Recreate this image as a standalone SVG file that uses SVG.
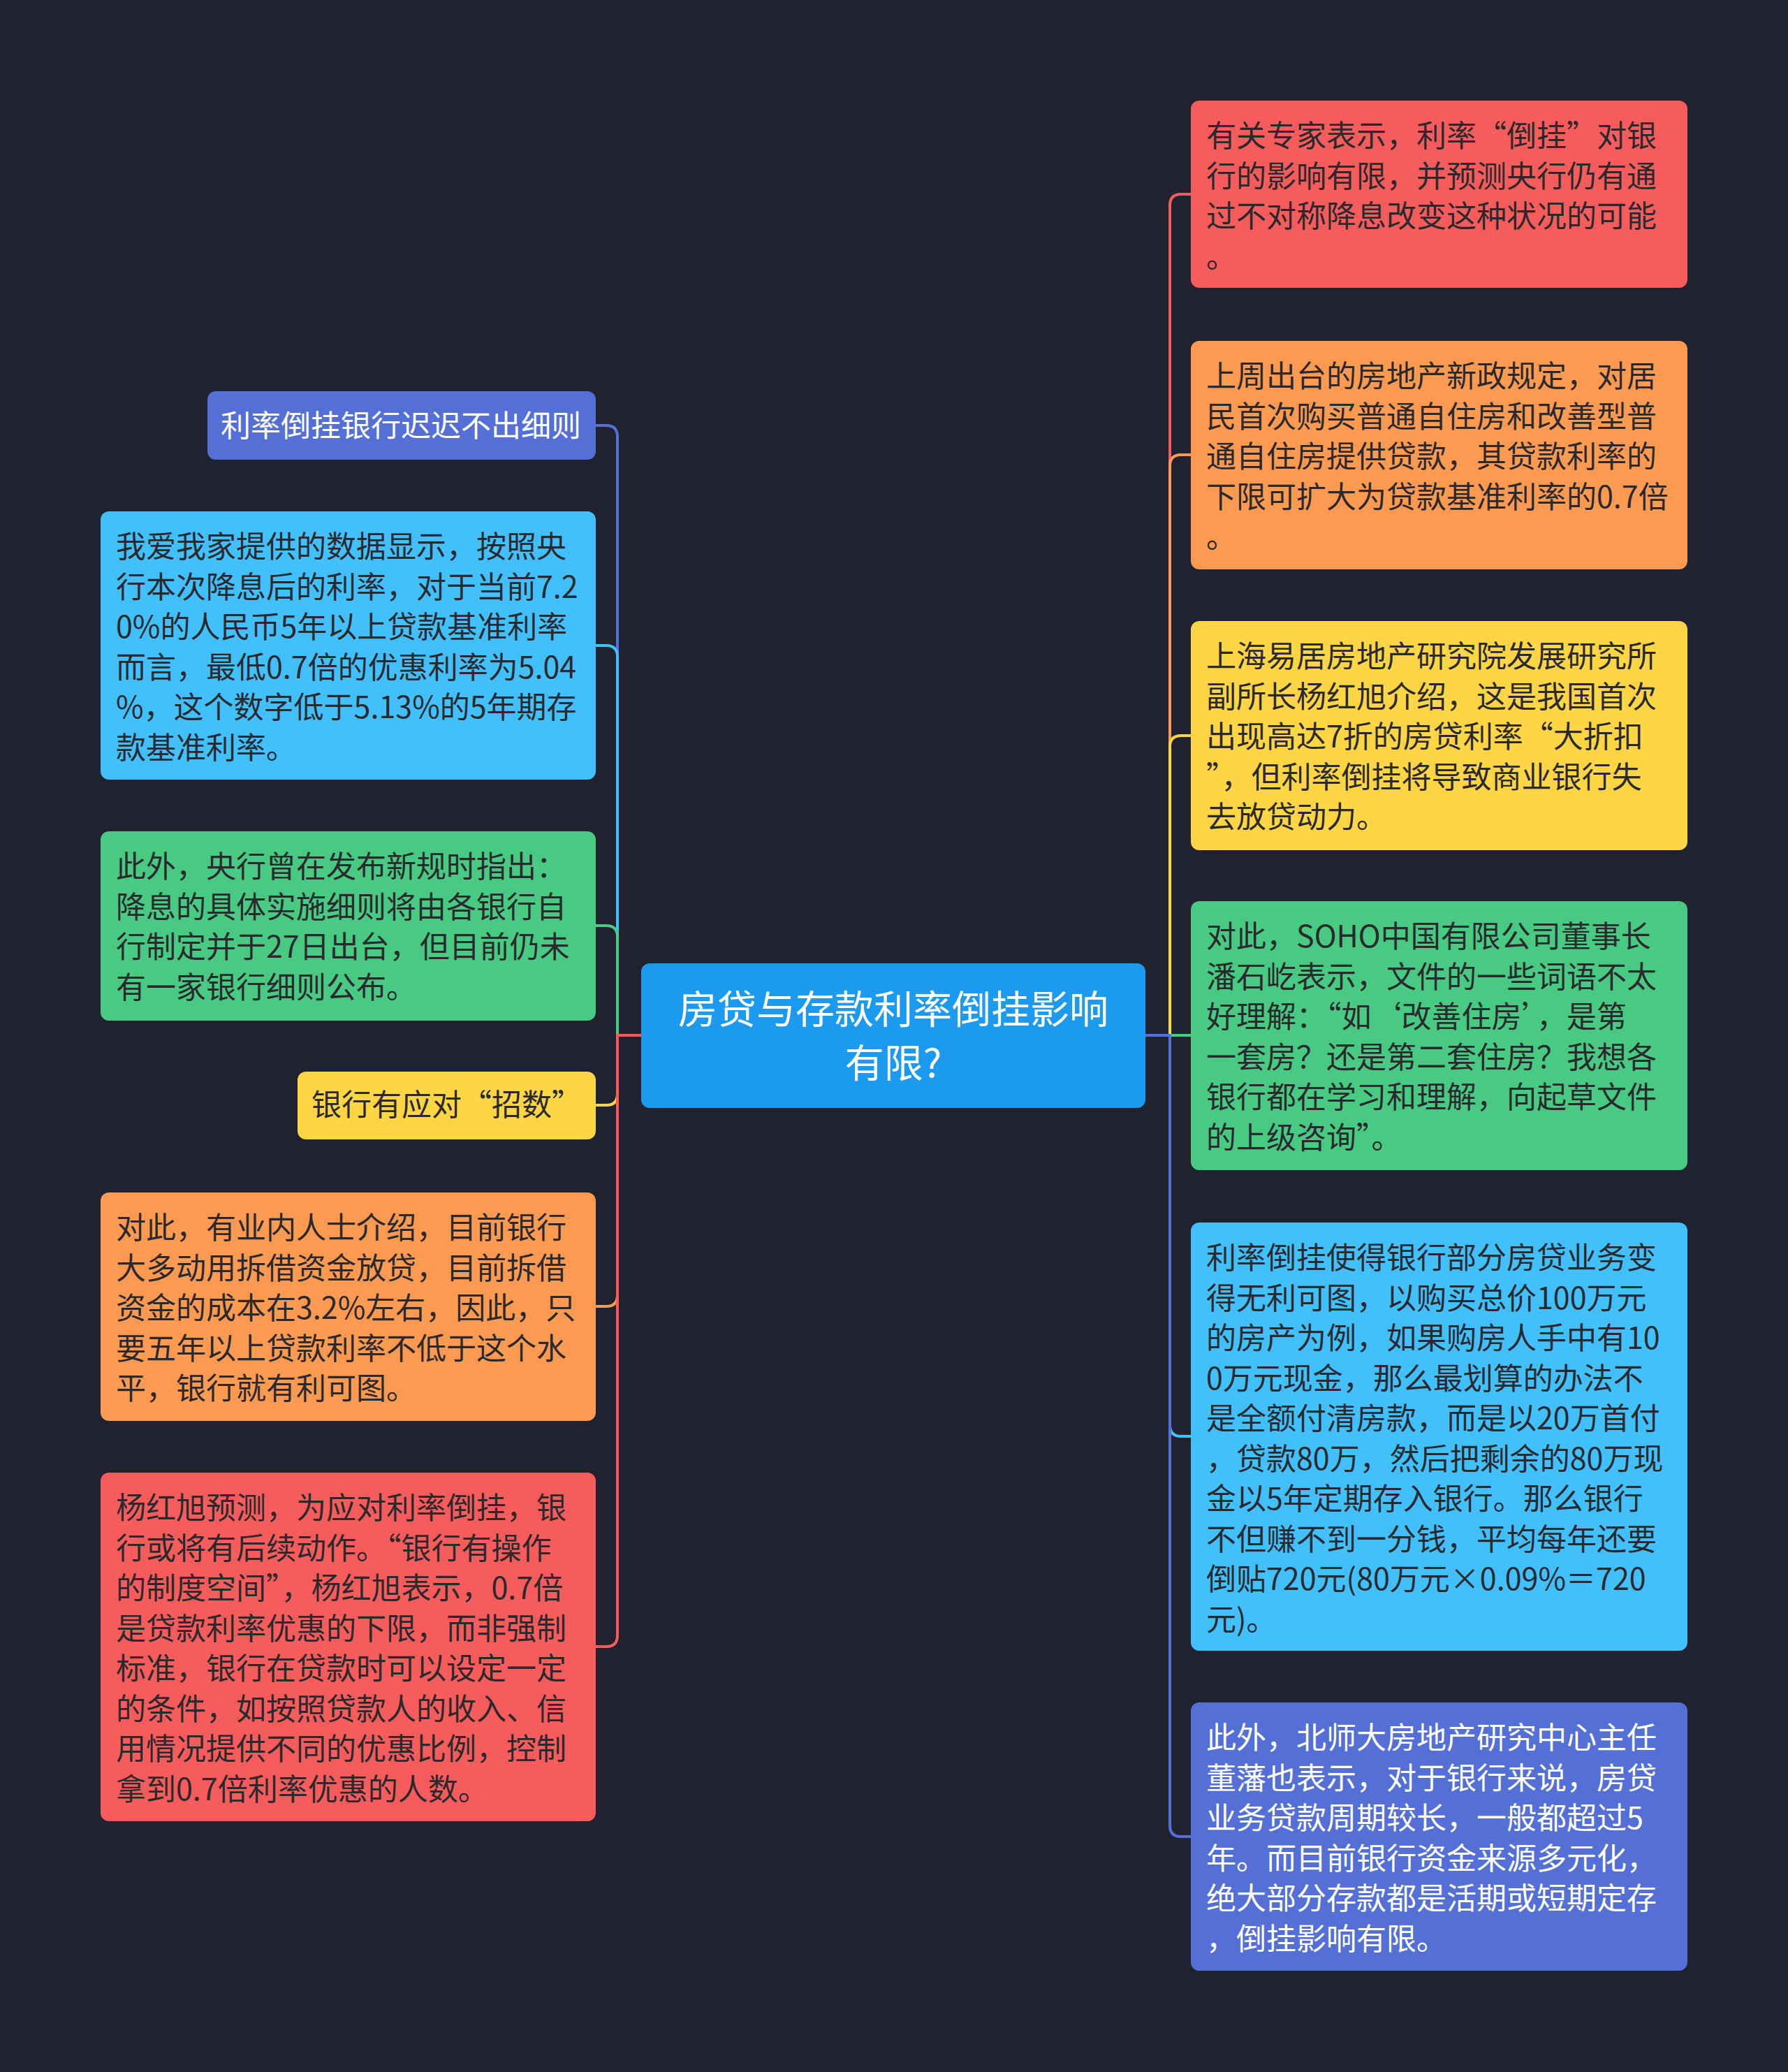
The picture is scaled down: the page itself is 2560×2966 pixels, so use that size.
<svg xmlns="http://www.w3.org/2000/svg" width="2560" height="2966" viewBox="0 0 2560 2966">
<style>
.t{font-family:"Noto Sans CJK SC","Noto Sans",sans-serif;font-size:43px;fill:#2a2a2e}
.w{fill:#ffffff}
.c{font-family:"Noto Sans CJK SC","Noto Sans",sans-serif;font-size:56px;fill:#ffffff;text-anchor:middle}
.ln{fill:none;stroke-width:4;stroke-linejoin:round}
.red{fill:#f65c5c}.org{fill:#fd9a51}.yel{fill:#fdd545}.grn{fill:#48ca83}.lb{fill:#41c0fc}.pur{fill:#5470d6}
</style>
<rect x="0" y="0" width="2560" height="2966" fill="#20232f"/>
<g id="connectors">
<path class="ln" stroke="#5470d6" d="M918,1482 H884 V625 Q884,609 868,609 H853"/>
<path class="ln" stroke="#41c0fc" d="M918,1482 H884 V940 Q884,924 868,924 H853"/>
<path class="ln" stroke="#48ca83" d="M918,1482 H884 V1341 Q884,1325 868,1325 H853"/>
<path class="ln" stroke="#fdd545" d="M918,1482 H884 V1566 Q884,1582 868,1582 H853"/>
<path class="ln" stroke="#fd9a51" d="M918,1482 H884 V1854 Q884,1870 868,1870 H853"/>
<path class="ln" stroke="#f65c5c" d="M918,1482 H884 V2341 Q884,2357 868,2357 H853"/>
<path class="ln" stroke="#f65c5c" d="M1640,1482 H1675 V294 Q1675,278 1691,278 H1705"/>
<path class="ln" stroke="#fd9a51" d="M1640,1482 H1675 V667 Q1675,651 1691,651 H1705"/>
<path class="ln" stroke="#fdd545" d="M1640,1482 H1675 V1069 Q1675,1053 1691,1053 H1705"/>
<path class="ln" stroke="#48ca83" d="M1640,1482 H1705"/>
<path class="ln" stroke="#41c0fc" d="M1640,1482 H1675 V2040 Q1675,2056 1691,2056 H1705"/>
<path class="ln" stroke="#5470d6" d="M1640,1482 H1675 V2613 Q1675,2629 1691,2629 H1705"/>
</g>
<g id="center">
<rect x="918" y="1379" width="722" height="207" rx="12" fill="#1b9af0"/>
<text class="c" x="1279" y="1465">房贷与存款利率倒挂影响</text>
<text class="c" x="1279" y="1542">有限?</text>
</g>
<g id="L1">
<rect class="pur" x="297" y="560" width="556" height="98" rx="12"/>
<text class="t w" x="316" y="625">利率倒挂银行迟迟不出细则</text>
</g>
<g id="L2">
<rect class="lb" x="144" y="732" width="709" height="384" rx="12"/>
<text class="t" x="166" y="798">我爱我家提供的数据显示，按照央</text>
<text class="t" x="166" y="855.5">行本次降息后的利率，对于当前7.2</text>
<text class="t" x="166" y="913">0%的人民币5年以上贷款基准利率</text>
<text class="t" x="166" y="970.5">而言，最低0.7倍的优惠利率为5.04</text>
<text class="t" x="166" y="1028">%，这个数字低于5.13%的5年期存</text>
<text class="t" x="166" y="1085.5">款基准利率。</text>
</g>
<g id="L3">
<rect class="grn" x="144" y="1190" width="709" height="271" rx="12"/>
<text class="t" x="166" y="1256">此外，央行曾在发布新规时指出：</text>
<text class="t" x="166" y="1313.5">降息的具体实施细则将由各银行自</text>
<text class="t" x="166" y="1371">行制定并于27日出台，但目前仍未</text>
<text class="t" x="166" y="1428.5">有一家银行细则公布。</text>
</g>
<g id="L4">
<rect class="yel" x="426" y="1534" width="427" height="97" rx="12"/>
<text class="t" x="446" y="1597">银行有应对“招数”</text>
</g>
<g id="L5">
<rect class="org" x="144" y="1707" width="709" height="327" rx="12"/>
<text class="t" x="166" y="1773">对此，有业内人士介绍，目前银行</text>
<text class="t" x="166" y="1830.5">大多动用拆借资金放贷，目前拆借</text>
<text class="t" x="166" y="1888">资金的成本在3.2%左右，因此，只</text>
<text class="t" x="166" y="1945.5">要五年以上贷款利率不低于这个水</text>
<text class="t" x="166" y="2003">平，银行就有利可图。</text>
</g>
<g id="L6">
<rect class="red" x="144" y="2108" width="709" height="499" rx="12"/>
<text class="t" x="166" y="2174">杨红旭预测，为应对利率倒挂，银</text>
<text class="t" x="166" y="2231.5">行或将有后续动作。“银行有操作</text>
<text class="t" x="166" y="2289">的制度空间”，杨红旭表示，0.7倍</text>
<text class="t" x="166" y="2346.5">是贷款利率优惠的下限，而非强制</text>
<text class="t" x="166" y="2404">标准，银行在贷款时可以设定一定</text>
<text class="t" x="166" y="2461.5">的条件，如按照贷款人的收入、信</text>
<text class="t" x="166" y="2519">用情况提供不同的优惠比例，控制</text>
<text class="t" x="166" y="2576.5">拿到0.7倍利率优惠的人数。</text>
</g>
<g id="R1">
<rect class="red" x="1705" y="144" width="711" height="268" rx="12"/>
<text class="t" x="1727" y="210">有关专家表示，利率“倒挂”对银</text>
<text class="t" x="1727" y="267.5">行的影响有限，并预测央行仍有通</text>
<text class="t" x="1727" y="325">过不对称降息改变这种状况的可能</text>
<text class="t" x="1727" y="382.5">。</text>
</g>
<g id="R2">
<rect class="org" x="1705" y="488" width="711" height="327" rx="12"/>
<text class="t" x="1727" y="554">上周出台的房地产新政规定，对居</text>
<text class="t" x="1727" y="611.5">民首次购买普通自住房和改善型普</text>
<text class="t" x="1727" y="669">通自住房提供贷款，其贷款利率的</text>
<text class="t" x="1727" y="726.5">下限可扩大为贷款基准利率的0.7倍</text>
<text class="t" x="1727" y="784">。</text>
</g>
<g id="R3">
<rect class="yel" x="1705" y="889" width="711" height="328" rx="12"/>
<text class="t" x="1727" y="955">上海易居房地产研究院发展研究所</text>
<text class="t" x="1727" y="1012.5">副所长杨红旭介绍，这是我国首次</text>
<text class="t" x="1727" y="1070">出现高达7折的房贷利率“大折扣</text>
<text class="t" x="1727" y="1127.5">”，但利率倒挂将导致商业银行失</text>
<text class="t" x="1727" y="1185">去放贷动力。</text>
</g>
<g id="R4">
<rect class="grn" x="1705" y="1290" width="711" height="385" rx="12"/>
<text class="t" x="1727" y="1356">对此，SOHO中国有限公司董事长</text>
<text class="t" x="1727" y="1413.5">潘石屹表示，文件的一些词语不太</text>
<text class="t" x="1727" y="1471">好理解：“如‘改善住房’，是第</text>
<text class="t" x="1727" y="1528.5">一套房？还是第二套住房？我想各</text>
<text class="t" x="1727" y="1586">银行都在学习和理解，向起草文件</text>
<text class="t" x="1727" y="1643.5">的上级咨询”。</text>
</g>
<g id="R5">
<rect class="lb" x="1705" y="1750" width="711" height="613" rx="12"/>
<text class="t" x="1727" y="1816">利率倒挂使得银行部分房贷业务变</text>
<text class="t" x="1727" y="1873.5">得无利可图，以购买总价100万元</text>
<text class="t" x="1727" y="1931">的房产为例，如果购房人手中有10</text>
<text class="t" x="1727" y="1988.5">0万元现金，那么最划算的办法不</text>
<text class="t" x="1727" y="2046">是全额付清房款，而是以20万首付</text>
<text class="t" x="1727" y="2103.5">，贷款80万，然后把剩余的80万现</text>
<text class="t" x="1727" y="2161">金以5年定期存入银行。那么银行</text>
<text class="t" x="1727" y="2218.5">不但赚不到一分钱，平均每年还要</text>
<text class="t" x="1727" y="2276">倒贴720元(80万元×0.09%＝720</text>
<text class="t" x="1727" y="2333.5">元)。</text>
</g>
<g id="R6">
<rect class="pur" x="1705" y="2437" width="711" height="384" rx="12"/>
<text class="t w" x="1727" y="2503">此外，北师大房地产研究中心主任</text>
<text class="t w" x="1727" y="2560.5">董藩也表示，对于银行来说，房贷</text>
<text class="t w" x="1727" y="2618">业务贷款周期较长，一般都超过5</text>
<text class="t w" x="1727" y="2675.5">年。而目前银行资金来源多元化，</text>
<text class="t w" x="1727" y="2733">绝大部分存款都是活期或短期定存</text>
<text class="t w" x="1727" y="2790.5">，倒挂影响有限。</text>
</g>
</svg>
